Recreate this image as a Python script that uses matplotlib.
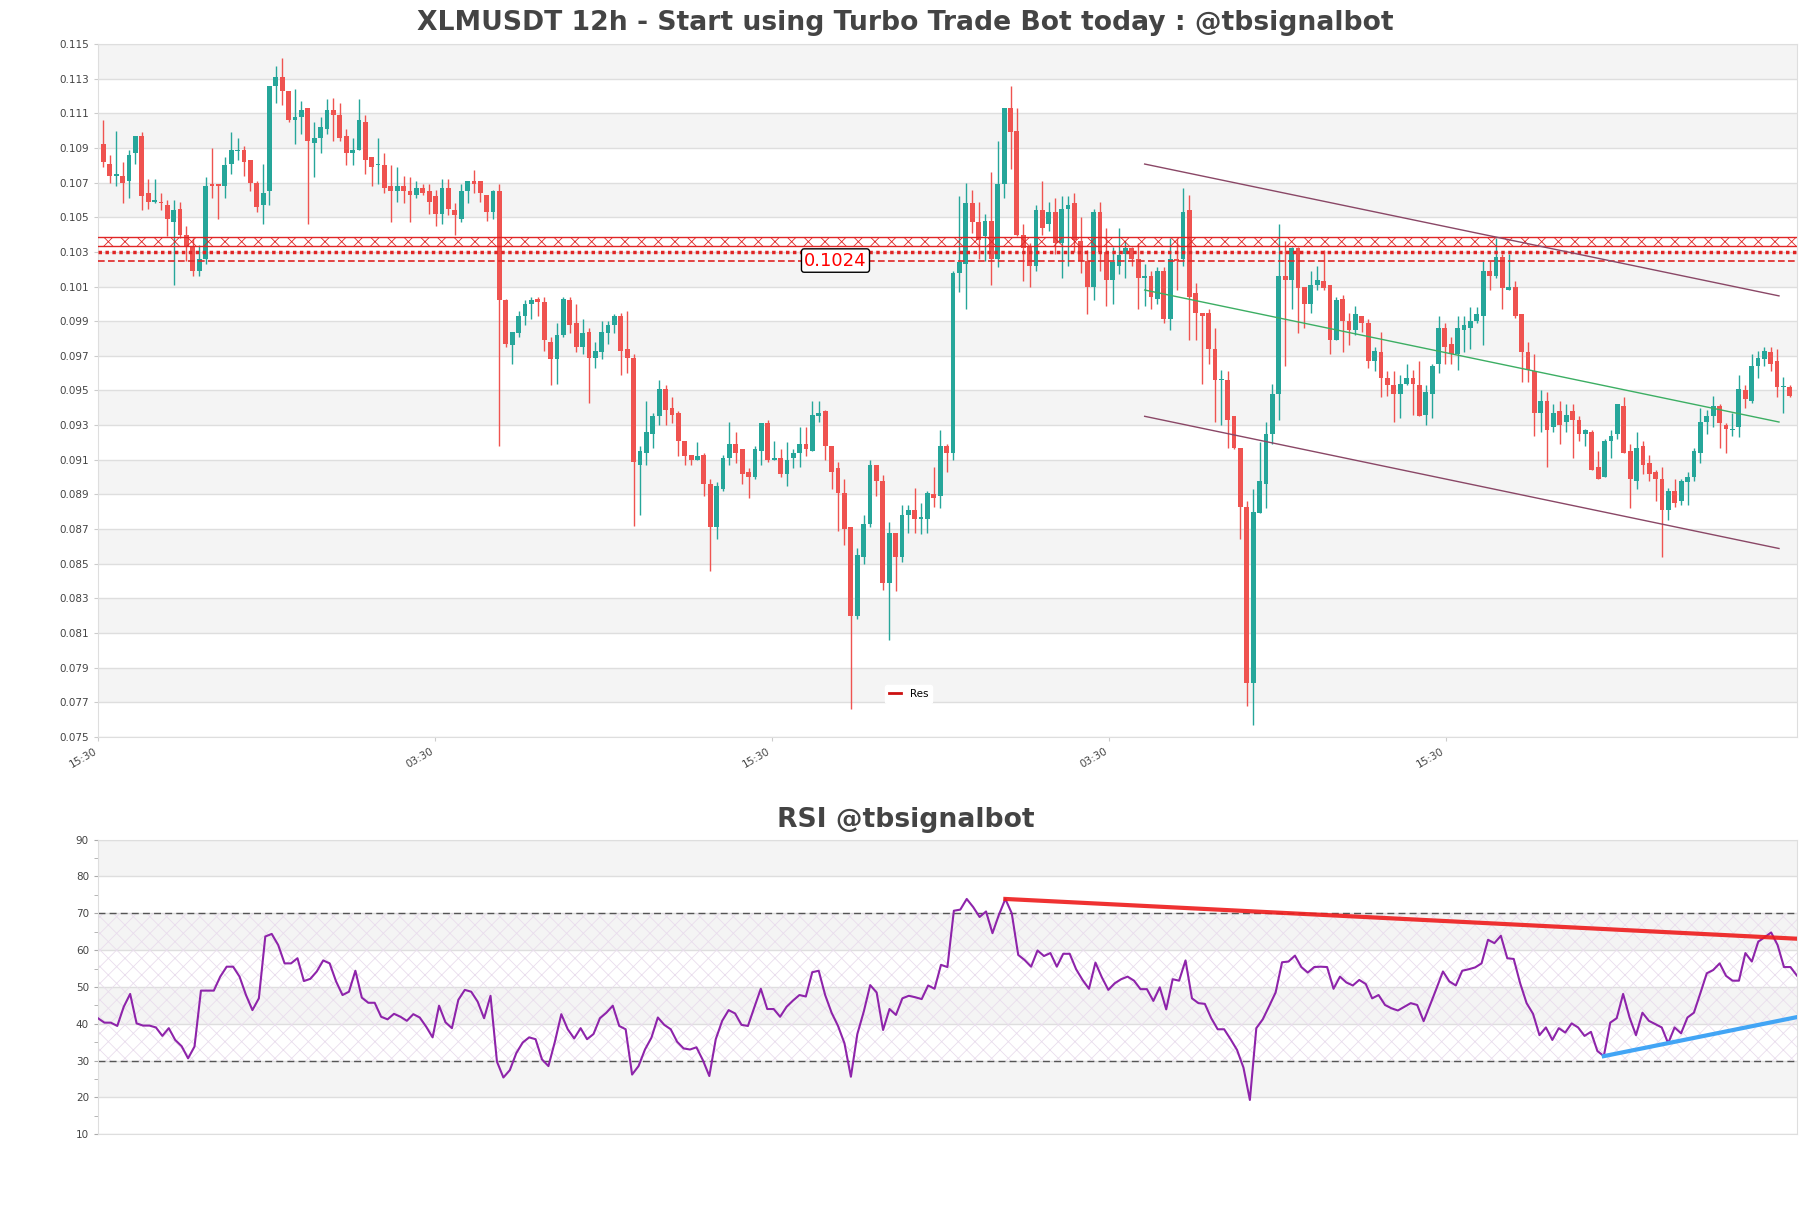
import numpy as np
import matplotlib
matplotlib.use("Agg")
import matplotlib.pyplot as plt
from matplotlib.lines import Line2D

title = "XLMUSDT 12h - Start using Turbo Trade Bot today : @tbsignalbot"
rsi_title = "RSI @tbsignalbot"

opens = [
    .1092, .1081, .1074, .1074, .1071, .1087, .1097, .1064, .1059, .1059,
    .1057, .1047, .1055, .1040, .1033, .1019, .1026, .1069, .1069, .1068,
    .1081, .1088, .1089, .1083, .1070, .1057, .1065, .1126, .1131, .1123,
    .1106, .1108, .1113, .1093, .1096, .1101, .1112, .1109, .1097, .1087,
    .1089, .1105, .1085, .1080, .1080, .1068, .1065, .1068, .1065, .1063,
    .1067, .1065, .1062, .1052, .1067, .1054, .1049, .1065, .1071, .1071,
    .1063, .1053, .1065, .1002, .0976, .0983, .0993, .1000, .1003, .1001,
    .0978, .0968, .0982, .1002, .0989, .0975, .0984, .0969, .0972, .0983,
    .0988, .0993, .0974, .0969, .0907, .0914, .0925, .0935, .0951, .0940,
    .0937, .0921, .0913, .0910, .0913, .0896, .0871, .0893, .0911, .0919,
    .0916, .0903, .0900, .0915, .0931, .0910, .0911, .0902, .0911, .0914,
    .0919, .0915, .0935, .0938, .0918, .0905, .0891, .0871, .0820, .0854,
    .0873, .0907, .0898, .0839, .0868, .0854, .0878, .0881, .0876, .0876,
    .0890, .0889, .0918, .0914, .1018, .1023, .1058, .1047, .1039, .1048,
    .1026, .1069, .1113, .1100, .1040, .1033, .1022, .1054, .1046, .1053,
    .1035, .1055, .1058, .1036, .1025, .1010, .1053, .1030, .1014, .1022,
    .1029, .1032, .1026, .1015, .1016, .1003, .1019, .0991, .1026, .1026,
    .1054, .1006, .0995, .0995, .0974, .0956, .0956, .0935, .0917, .0883,
    .0781, .0879, .0896, .0925, .0948, .1016, .1014, .1032, .1010, .1000,
    .1011, .1013, .1011, .0979, .1003, .0990, .0985, .0993, .0989, .0967,
    .0972, .0957, .0953, .0948, .0954, .0957, .0953, .0936, .0948, .0965,
    .0986, .0977, .0971, .0985, .0986, .0990, .0993, .1019, .1016, .1027,
    .1008, .1010, .0994, .0972, .0961, .0937, .0944, .0929, .0938, .0932,
    .0938, .0933, .0925, .0926, .0906, .0900, .0921, .0925, .0941, .0915,
    .0898, .0918, .0908, .0903, .0899, .0881, .0892, .0886, .0897, .0900,
    .0914, .0932, .0935, .0941, .0930, .0927, .0929, .0950, .0944, .0964,
    .0968, .0972, .0967, .0952, .0952,
]
highs = [
    .1106, .1086, .1100, .1082, .1089, .1097, .1099, .1072, .1072, .1064,
    .1060, .1060, .1059, .1045, .1038, .1034, .1073, .1090, .1069, .1085,
    .1099, .1096, .1091, .1083, .1071, .1081, .1126, .1137, .1142, .1123,
    .1124, .1117, .1113, .1105, .1108, .1118, .1119, .1116, .1101, .1096,
    .1118, .1109, .1085, .1096, .1087, .1080, .1079, .1074, .1073, .1071,
    .1069, .1069, .1066, .1072, .1072, .1058, .1069, .1071, .1077, .1071,
    .1063, .1066, .1069, .1003, .0984, .0996, .1002, .1004, .1004, .1004,
    .0981, .0989, .1004, .1004, .1000, .0991, .0986, .0978, .0990, .0990,
    .0994, .0995, .0996, .0971, .0918, .0944, .0937, .0956, .0953, .0946,
    .0938, .0921, .0913, .0920, .0914, .0899, .0897, .0913, .0932, .0926,
    .0916, .0905, .0918, .0931, .0933, .0921, .0916, .0920, .0916, .0929,
    .0929, .0944, .0944, .0939, .0918, .0909, .0899, .0871, .0859, .0878,
    .0910, .0907, .0901, .0874, .0868, .0884, .0884, .0894, .0885, .0892,
    .0906, .0927, .0919, .1019, .1062, .1070, .1066, .1059, .1052, .1076,
    .1094, .1113, .1126, .1113, .1046, .1035, .1057, .1071, .1059, .1061,
    .1062, .1062, .1064, .1050, .1031, .1055, .1059, .1044, .1033, .1044,
    .1036, .1033, .1035, .1023, .1019, .1021, .1021, .1038, .1038, .1067,
    .1063, .1012, .0995, .0997, .0986, .0962, .0961, .0935, .0917, .0886,
    .0893, .0920, .0932, .0954, .1046, .1036, .1033, .1033, .1010, .1019,
    .1022, .1031, .1011, .1004, .1005, .0995, .0999, .0993, .0991, .0975,
    .0984, .0961, .0961, .0959, .0965, .0962, .0967, .0953, .0965, .0993,
    .0989, .0981, .0993, .0993, .0998, .0998, .1025, .1025, .1038, .1029,
    .1029, .1013, .0994, .0978, .0971, .0950, .0949, .0942, .0944, .0942,
    .0942, .0935, .0928, .0927, .0915, .0922, .0927, .0942, .0946, .0919,
    .0926, .0921, .0913, .0904, .0906, .0894, .0899, .0899, .0903, .0917,
    .0940, .0939, .0947, .0942, .0931, .0937, .0959, .0953, .0971, .0973,
    .0975, .0975, .0974, .0958, .0953,
]
lows = [
    .1079, .1070, .1068, .1058, .1061, .1081, .1054, .1055, .1058, .1054,
    .1039, .1011, .1038, .1025, .1016, .1016, .1023, .1061, .1049, .1061,
    .1075, .1083, .1074, .1065, .1053, .1046, .1057, .1116, .1115, .1105,
    .1092, .1098, .1046, .1073, .1087, .1098, .1094, .1094, .1080, .1080,
    .1089, .1075, .1068, .1069, .1064, .1047, .1059, .1058, .1047, .1061,
    .1063, .1052, .1045, .1046, .1051, .1040, .1047, .1058, .1064, .1059,
    .1048, .1049, .0918, .0975, .0965, .0981, .0988, .0991, .0993, .0973,
    .0953, .0954, .0981, .0983, .0972, .0971, .0943, .0963, .0968, .0977,
    .0983, .0959, .0960, .0872, .0878, .0907, .0917, .0930, .0930, .0931,
    .0912, .0907, .0907, .0910, .0889, .0846, .0864, .0892, .0907, .0908,
    .0896, .0888, .0899, .0907, .0909, .0910, .0900, .0895, .0905, .0906,
    .0912, .0915, .0932, .0910, .0893, .0869, .0861, .0766, .0818, .0850,
    .0871, .0889, .0835, .0806, .0834, .0851, .0868, .0868, .0867, .0868,
    .0883, .0882, .0903, .0910, .1007, .0997, .1041, .1026, .1025, .1011,
    .1021, .1061, .1078, .1039, .1013, .1010, .1019, .1040, .1042, .1029,
    .1015, .1022, .1030, .1018, .0994, .1002, .1019, .0999, .1000, .1017,
    .1015, .1022, .0997, .0999, .0997, .1000, .0989, .0985, .1008, .1022,
    .0979, .0979, .0954, .0965, .0932, .0930, .0917, .0916, .0864, .0768,
    .0757, .0879, .0882, .0919, .0933, .0964, .0997, .0983, .0986, .0995,
    .1008, .1008, .0971, .0979, .0972, .0976, .0982, .0984, .0963, .0961,
    .0946, .0947, .0932, .0934, .0953, .0936, .0935, .0930, .0934, .0960,
    .0965, .0965, .0962, .0972, .0974, .0989, .0976, .1008, .1015, .0997,
    .1008, .0992, .0955, .0955, .0924, .0926, .0906, .0926, .0919, .0926,
    .0911, .0921, .0918, .0904, .0899, .0900, .0911, .0922, .0914, .0882,
    .0893, .0902, .0898, .0886, .0854, .0875, .0883, .0884, .0884, .0898,
    .0908, .0925, .0929, .0917, .0914, .0924, .0923, .0940, .0943, .0957,
    .0964, .0961, .0946, .0937, .0946,
]
closes = [
    .1082, .1074, .1075, .1070, .1086, .1097, .1062, .1059, .1060, .1058,
    .1049, .1054, .1040, .1033, .1019, .1026, .1068, .1068, .1068, .1080,
    .1089, .1089, .1082, .1070, .1056, .1064, .1126, .1131, .1123, .1106,
    .1108, .1112, .1094, .1096, .1102, .1112, .1109, .1096, .1087, .1089,
    .1106, .1083, .1079, .1080, .1067, .1065, .1068, .1065, .1063, .1067,
    .1064, .1059, .1052, .1067, .1055, .1051, .1065, .1071, .1069, .1064,
    .1053, .1065, .1002, .0977, .0984, .0993, .1000, .1002, .1001, .0979,
    .0968, .0982, .1003, .0988, .0975, .0983, .0969, .0973, .0984, .0988,
    .0993, .0973, .0969, .0909, .0915, .0926, .0935, .0951, .0939, .0936,
    .0921, .0912, .0910, .0912, .0896, .0871, .0895, .0911, .0919, .0914,
    .0902, .0900, .0916, .0931, .0910, .0911, .0902, .0910, .0914, .0919,
    .0916, .0936, .0937, .0918, .0903, .0891, .0870, .0820, .0855, .0873,
    .0907, .0898, .0839, .0868, .0854, .0878, .0881, .0876, .0877, .0891,
    .0888, .0918, .0914, .1018, .1024, .1058, .1047, .1037, .1048, .1026,
    .1069, .1113, .1099, .1040, .1032, .1022, .1054, .1044, .1053, .1035,
    .1055, .1057, .1037, .1025, .1010, .1053, .1030, .1014, .1024, .1028,
    .1032, .1026, .1015, .1016, .1004, .1019, .0991, .1026, .1025, .1053,
    .1004, .0995, .0993, .0974, .0956, .0956, .0933, .0917, .0883, .0781,
    .0880, .0898, .0925, .0948, .1016, .1014, .1032, .1009, .1000, .1011,
    .1014, .1009, .0979, .1002, .0990, .0985, .0994, .0989, .0967, .0973,
    .0957, .0953, .0948, .0954, .0957, .0954, .0935, .0949, .0964, .0986,
    .0975, .0971, .0986, .0988, .0990, .0994, .1019, .1016, .1027, .1009,
    .1010, .0993, .0972, .0962, .0937, .0944, .0927, .0937, .0930, .0936,
    .0933, .0925, .0927, .0904, .0899, .0921, .0924, .0942, .0914, .0899,
    .0917, .0907, .0902, .0899, .0881, .0892, .0885, .0898, .0900, .0915,
    .0932, .0935, .0941, .0931, .0928, .0928, .0951, .0945, .0964, .0969,
    .0973, .0965, .0952, .0952, .0947,
]
rsi = [
    41.5, 40.3, 40.3, 39.4, 44.6, 48.1, 40.1, 39.5, 39.5, 39.0,
    36.7, 38.8, 35.6, 33.9, 30.6, 33.8, 49.0, 49.0, 49.0, 52.8,
    55.5, 55.5, 52.8, 47.8, 43.7, 46.9, 63.7, 64.4, 61.4, 56.4,
    56.4, 57.8, 51.6, 52.2, 54.2, 57.2, 56.4, 51.5, 47.8, 48.7,
    54.4, 47.1, 45.7, 45.7, 41.9, 41.2, 42.7, 41.9, 40.8, 42.6,
    41.7, 39.2, 36.3, 44.9, 40.4, 38.8, 46.5, 49.2, 48.7, 46.0,
    41.5, 47.6, 29.7, 25.4, 27.4, 32.0, 34.9, 36.3, 35.8, 30.3,
    28.5, 35.1, 42.6, 38.5, 36.0, 38.8, 35.8, 37.2, 41.5, 43.0,
    44.9, 39.4, 38.5, 26.2, 28.5, 33.0, 36.2, 41.7, 39.7, 38.5,
    35.1, 33.3, 33.0, 33.6, 30.1, 25.8, 35.8, 40.8, 43.7, 42.8,
    39.7, 39.4, 44.5, 49.5, 44.0, 44.0, 41.9, 44.6, 46.3, 47.8,
    47.4, 54.0, 54.4, 47.8, 43.0, 39.4, 34.7, 25.6, 37.2, 43.3,
    50.5, 48.5, 38.3, 44.0, 42.4, 46.9, 47.6, 47.2, 46.7, 50.4,
    49.5, 56.0, 55.4, 70.7, 71.0, 73.9, 71.7, 69.0, 70.5, 64.6,
    69.6, 73.9, 70.0, 58.7, 57.3, 55.5, 59.9, 58.4, 59.2, 55.5,
    59.0, 59.0, 54.8, 51.9, 49.5, 56.6, 52.6, 49.2, 51.0, 52.1,
    52.8, 51.7, 49.4, 49.4, 46.2, 49.9, 43.9, 52.1, 51.7, 57.2,
    46.9, 45.6, 45.4, 41.5, 38.5, 38.5, 35.8, 32.9, 28.1, 19.3,
    38.8, 41.2, 44.8, 48.5, 56.7, 56.9, 58.5, 55.4, 53.9, 55.4,
    55.5, 55.4, 49.5, 52.8, 51.2, 50.4, 51.9, 50.8, 46.9, 47.8,
    45.1, 44.2, 43.6, 44.6, 45.6, 45.1, 40.7, 45.1, 49.6, 54.2,
    51.5, 50.4, 54.4, 54.8, 55.3, 56.4, 62.8, 61.9, 63.9, 57.8,
    57.6, 51.0, 45.6, 42.7, 36.9, 39.0, 35.6, 38.8, 37.6, 40.1,
    39.0, 36.7, 37.8, 32.6, 31.2, 40.3, 41.5, 48.1, 41.7, 36.9,
    43.0, 40.8, 39.9, 39.0, 34.7, 39.0, 37.4, 41.7, 43.0, 48.3,
    53.7, 54.6, 56.4, 53.0, 51.7, 51.7, 59.2, 56.9, 62.3, 63.5,
    64.8, 61.4, 55.4, 55.4, 53.1,
]

xtick_pos = [-0.8, 51.95, 104.7, 157.45, 210.2]
xtick_labels = ["15:30", "03:30", "15:30", "03:30", "15:30"]

# resistance zone
zone_low, zone_high = 0.10332, 0.10384
dotted_level = 0.10300
res_level = 0.10246
res_label = "0.1024"

# channel (price axes, candle index)
chan_x = [163.0, 262.3]
chan_upper = [0.10807, 0.10046]
chan_mid = [0.10080, 0.09318]
chan_lower = [0.09351, 0.08588]

# rsi trend lines
rsi_red_x, rsi_red_y = [141, 264], [73.9, 63.1]
rsi_blue_x, rsi_blue_y = [234, 264], [31.2, 41.8]

up_col = "#26a69a"
down_col = "#ef5350"
res_col = "#e02525"
text_col = "#444444"
grid_col = "#dedede"
band_col = "#f4f4f4"

plt.rcParams["hatch.linewidth"] = 0.6

o = np.array(opens)
h = np.array(highs)
l = np.array(lows)
c = np.array(closes)
x = np.arange(len(c))

fig = plt.figure(figsize=(18.11, 12.08), dpi=100)
ax = fig.add_axes([0.0541, 0.3899, 0.9381, 0.5737])
ax2 = fig.add_axes([0.0541, 0.0611, 0.9381, 0.2438])

# ---- price panel ----
for i, y0 in enumerate(np.arange(0.075, 0.115, 0.002)):
    if i % 2 == 1:
        ax.axhspan(y0, y0 + 0.002, color=band_col, lw=0, zorder=0)

cols = np.where(c >= o, up_col, down_col)
ax.vlines(x, l, h, colors=cols, lw=1, zorder=3)
ax.bar(x, np.maximum(np.abs(c - o), 0.00005), bottom=np.minimum(o, c),
       width=0.75, color=cols, lw=0, zorder=4)

ax.axhspan(zone_low, zone_high, facecolor="none", edgecolor=res_col,
           hatch="xx", lw=0, zorder=5)
ax.axhline(zone_low, color=res_col, lw=1, zorder=5)
ax.axhline(zone_high, color=res_col, lw=1, zorder=5)
ax.axhline(dotted_level, color=res_col, lw=2.5, ls=(0, (1, 1)), zorder=5)
ax.axhline(res_level, color=res_col, lw=1.2, ls=(0, (4, 2)), zorder=5)

ax.plot(chan_x, chan_upper, color="#8a4766", lw=1, zorder=5)
ax.plot(chan_x, chan_lower, color="#8a4766", lw=1, zorder=5)
ax.plot(chan_x, chan_mid, color="#3cae63", lw=1, zorder=5)

ax.text(114.6, 0.10250, res_label, color="red", fontsize=13, ha="center",
        va="center", zorder=7,
        bbox=dict(boxstyle="round,pad=0.15", fc="white", ec="black", lw=1))

handle = Line2D([0], [0], color="#cc1111", lw=2)
ax.legend([handle], ["Res"], loc="center", bbox_to_anchor=(0.477, 0.062),
          fontsize=7.5, frameon=True, facecolor="white", edgecolor="white",
          framealpha=1, handlelength=1.2)

ax.set_xlim(-0.85, 265.1)
ax.set_ylim(0.075, 0.115)
ax.set_yticks(np.arange(0.075, 0.1151, 0.002))
ax.set_yticklabels([f"{v:.3f}" for v in np.arange(0.075, 0.1151, 0.002)])
ax.yaxis.grid(True, color=grid_col, lw=1)
ax.set_axisbelow(True)
ax.set_xticks(xtick_pos)
ax.set_xticklabels(xtick_labels, rotation=30, ha="right")
ax.tick_params(axis="both", labelsize=7.5, colors=text_col, length=3)
ax.tick_params(axis="both", color="#cccccc")
for s in ax.spines.values():
    s.set_color(grid_col)

# ---- rsi panel ----
for y0 in range(10, 90, 10):
    if (y0 // 10) % 2 == 0:
        ax2.axhspan(y0, y0 + 10, color=band_col, lw=0, zorder=0)
ax2.axhspan(30, 70, facecolor="none", edgecolor="#e9dded", hatch="xx",
            lw=0, zorder=1)
ax2.axhline(70, color="#555555", lw=1, ls=(0, (5, 3)), zorder=2)
ax2.axhline(30, color="#555555", lw=1, ls=(0, (5, 3)), zorder=2)
ax2.plot(np.arange(len(rsi)), rsi, color="#8e24aa", lw=1.5, zorder=4)
ax2.plot(rsi_red_x, rsi_red_y, color="#ee1c1c", lw=3, alpha=0.9, zorder=5)
ax2.plot(rsi_blue_x, rsi_blue_y, color="#42a5f5", lw=3, zorder=5)

ax2.set_xlim(0, len(rsi) - 1)
ax2.set_ylim(10, 90)
ax2.set_yticks(range(10, 91, 10))
ax2.set_yticks(range(15, 90, 10), minor=True)
ax2.set_xticks([])
ax2.yaxis.grid(True, color=grid_col, lw=1)
ax2.set_axisbelow(True)
ax2.tick_params(axis="y", which="both", labelsize=7.5, colors=text_col,
                length=3, color="#aaaaaa")
for s in ax2.spines.values():
    s.set_color(grid_col)

fig.text(0.5, 0.981, title, ha="center", va="center", fontsize=19.2,
         fontweight="bold", color=text_col)
fig.text(0.5, 0.321, rsi_title, ha="center", va="center", fontsize=19.2,
         fontweight="bold", color=text_col)

fig.savefig("out.png", dpi=100)
